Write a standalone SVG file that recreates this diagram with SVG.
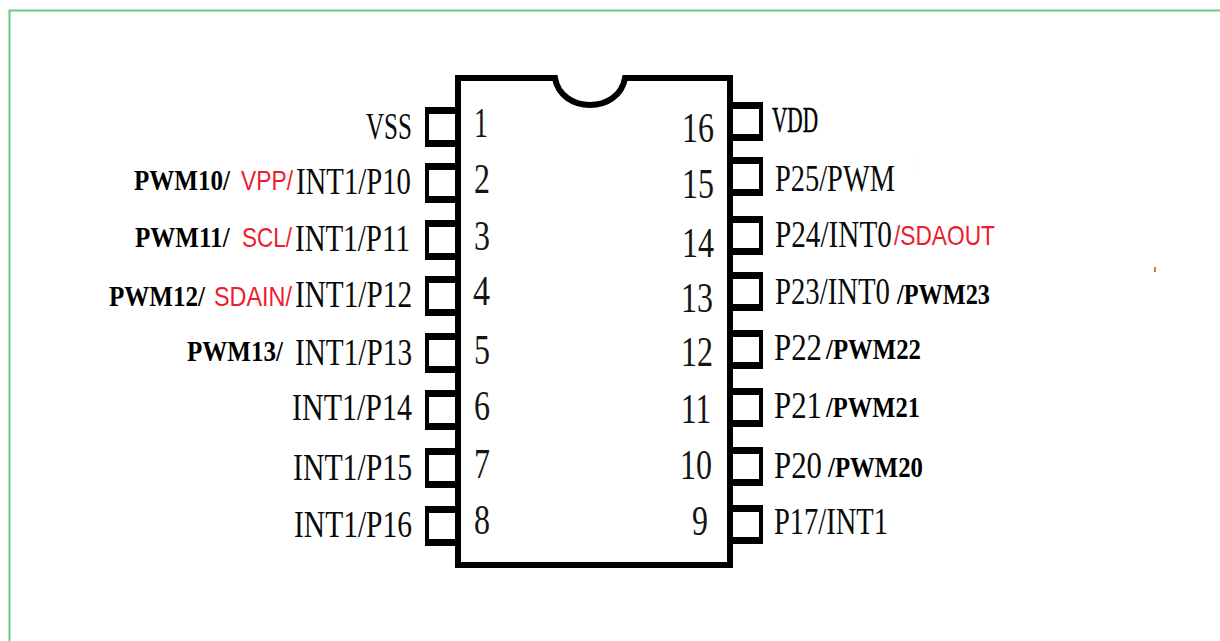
<svg xmlns="http://www.w3.org/2000/svg" width="1220" height="641" viewBox="0 0 1220 641">
<style>
.s{font-family:"Liberation Serif","Times New Roman",serif;font-size:37px;fill:#0a0a0a}
.v{font-family:"Liberation Serif","Times New Roman",serif;font-size:36px;fill:#000;stroke:#000;stroke-width:.5px}
.n{font-family:"Liberation Serif","Times New Roman",serif;font-size:42px;fill:#151515}
.b{font-family:"Liberation Serif","Times New Roman",serif;font-size:30px;font-weight:bold;fill:#000}
.r{font-family:"Liberation Sans",Arial,sans-serif;font-size:27px;fill:#ee1c2e}
.k{fill:#000}
</style>
<defs>
<path id="pl" class="k" fill-rule="evenodd" d="M0 0H31V40H0ZM4 7V33H31V7Z"/>
<path id="pr" class="k" fill-rule="evenodd" d="M0 0H31V39H0ZM0 7V32H27V7Z"/>
</defs>
<rect width="1220" height="641" fill="#fff"/>
<path d="M1220 10.5H9.5V641" fill="none" stroke="#62cf85" stroke-width="2"/>
<rect x="914" y="150" width="1" height="24" fill="#fdfbe6"/>
<rect x="1154" y="267" width="2" height="5" fill="#e2793a"/>
<g id="connectors"></g>
<g id="body">
<path d="M458 78H555C561 114 619 114 625 78H730V565H458Z" fill="#fff" stroke="#000" stroke-width="6"/>
</g>
<g id="pin1"><use href="#pl" x="425" y="107"/><text class="s" x="366" y="139" textLength="46" lengthAdjust="spacingAndGlyphs">VSS</text><text class="n" x="474" y="137" textLength="14" lengthAdjust="spacingAndGlyphs">1</text></g>
<g id="pin2"><use href="#pl" x="425" y="163"/><text class="b" transform="translate(134 190) scale(.835 1)">PWM10/</text><text class="r" transform="translate(241 190) scale(.845 1)">VPP/</text><text class="s" transform="translate(296 194) scale(.777 1)">INT1/P10</text><text class="n" x="474" y="193" textLength="16" lengthAdjust="spacingAndGlyphs">2</text></g>
<g id="pin3"><use href="#pl" x="425" y="220"/><text class="b" transform="translate(135 247) scale(.835 1)">PWM11/</text><text class="r" transform="translate(242 247) scale(.833 1)">SCL/</text><text class="s" transform="translate(295 251) scale(.784 1)">INT1/P11</text><text class="n" x="474" y="250" textLength="16" lengthAdjust="spacingAndGlyphs">3</text></g>
<g id="pin4"><use href="#pl" x="425" y="276"/><text class="b" transform="translate(109 306) scale(.835 1)">PWM12/</text><text class="r" transform="translate(214 306) scale(.867 1)">SDAIN/</text><text class="s" transform="translate(295 307) scale(.791 1)">INT1/P12</text><text class="n" x="473" y="305" textLength="17" lengthAdjust="spacingAndGlyphs">4</text></g>
<g id="pin5"><use href="#pl" x="425" y="333"/><text class="b" transform="translate(187 361) scale(.835 1)">PWM13/</text><text class="s" transform="translate(295 365) scale(.791 1)">INT1/P13</text><text class="n" x="474" y="364" textLength="16" lengthAdjust="spacingAndGlyphs">5</text></g>
<g id="pin6"><use href="#pl" x="425" y="390"/><text class="s" x="292" y="420" textLength="120" lengthAdjust="spacingAndGlyphs">INT1/P14</text><text class="n" x="474" y="420" textLength="16" lengthAdjust="spacingAndGlyphs">6</text></g>
<g id="pin7"><use href="#pl" x="425" y="448"/><text class="s" x="293" y="480" textLength="119" lengthAdjust="spacingAndGlyphs">INT1/P15</text><text class="n" x="474" y="478" textLength="16" lengthAdjust="spacingAndGlyphs">7</text></g>
<g id="pin8"><use href="#pl" x="425" y="506"/><text class="s" x="294" y="537" textLength="118" lengthAdjust="spacingAndGlyphs">INT1/P16</text><text class="n" x="474" y="534" textLength="16" lengthAdjust="spacingAndGlyphs">8</text></g>
<g id="pin9"><use href="#pr" x="732" y="505"/><text class="s" x="774" y="534" textLength="114" lengthAdjust="spacingAndGlyphs">P17/INT1</text><text class="n" x="692" y="535" textLength="16" lengthAdjust="spacingAndGlyphs">9</text></g>
<g id="pin10"><use href="#pr" x="732" y="447"/><text class="s" transform="translate(774 478) scale(.833 1)">P20</text><text class="b" transform="translate(828 477) scale(.826 1)">/PWM20</text><text class="n" x="680" y="479" textLength="32" lengthAdjust="spacingAndGlyphs">10</text></g>
<g id="pin11"><use href="#pr" x="732" y="388"/><text class="s" transform="translate(774 418) scale(.833 1)">P21</text><text class="b" transform="translate(826 417) scale(.817 1)">/PWM21</text><text class="n" x="681" y="423" textLength="30" lengthAdjust="spacingAndGlyphs">11</text></g>
<g id="pin12"><use href="#pr" x="732" y="330"/><text class="s" transform="translate(774 360) scale(.833 1)">P22</text><text class="b" transform="translate(826 359) scale(.826 1)">/PWM22</text><text class="n" x="681" y="366" textLength="32" lengthAdjust="spacingAndGlyphs">12</text></g>
<g id="pin13"><use href="#pr" x="732" y="272"/><text class="s" transform="translate(775 304) scale(.777 1)">P23/INT0</text><text class="b" transform="translate(897 304) scale(.809 1)">/PWM23</text><text class="n" x="681" y="312" textLength="32" lengthAdjust="spacingAndGlyphs">13</text></g>
<g id="pin14"><use href="#pr" x="732" y="216"/><text class="s" transform="translate(775 247) scale(.79 1)">P24/INT0</text><text class="r" transform="translate(894 245) scale(.842 1)">/SDAOUT</text><text class="n" x="682" y="257" textLength="32" lengthAdjust="spacingAndGlyphs">14</text></g>
<g id="pin15"><use href="#pr" x="732" y="157"/><text class="s" x="775" y="191" textLength="120" lengthAdjust="spacingAndGlyphs">P25/PWM</text><text class="n" x="682" y="198" textLength="32" lengthAdjust="spacingAndGlyphs">15</text></g>
<g id="pin16"><use href="#pr" x="732" y="102"/><text class="v" x="772" y="132" textLength="46" lengthAdjust="spacingAndGlyphs">VDD</text><text class="n" x="682" y="142" textLength="32" lengthAdjust="spacingAndGlyphs">16</text></g>
</svg>
